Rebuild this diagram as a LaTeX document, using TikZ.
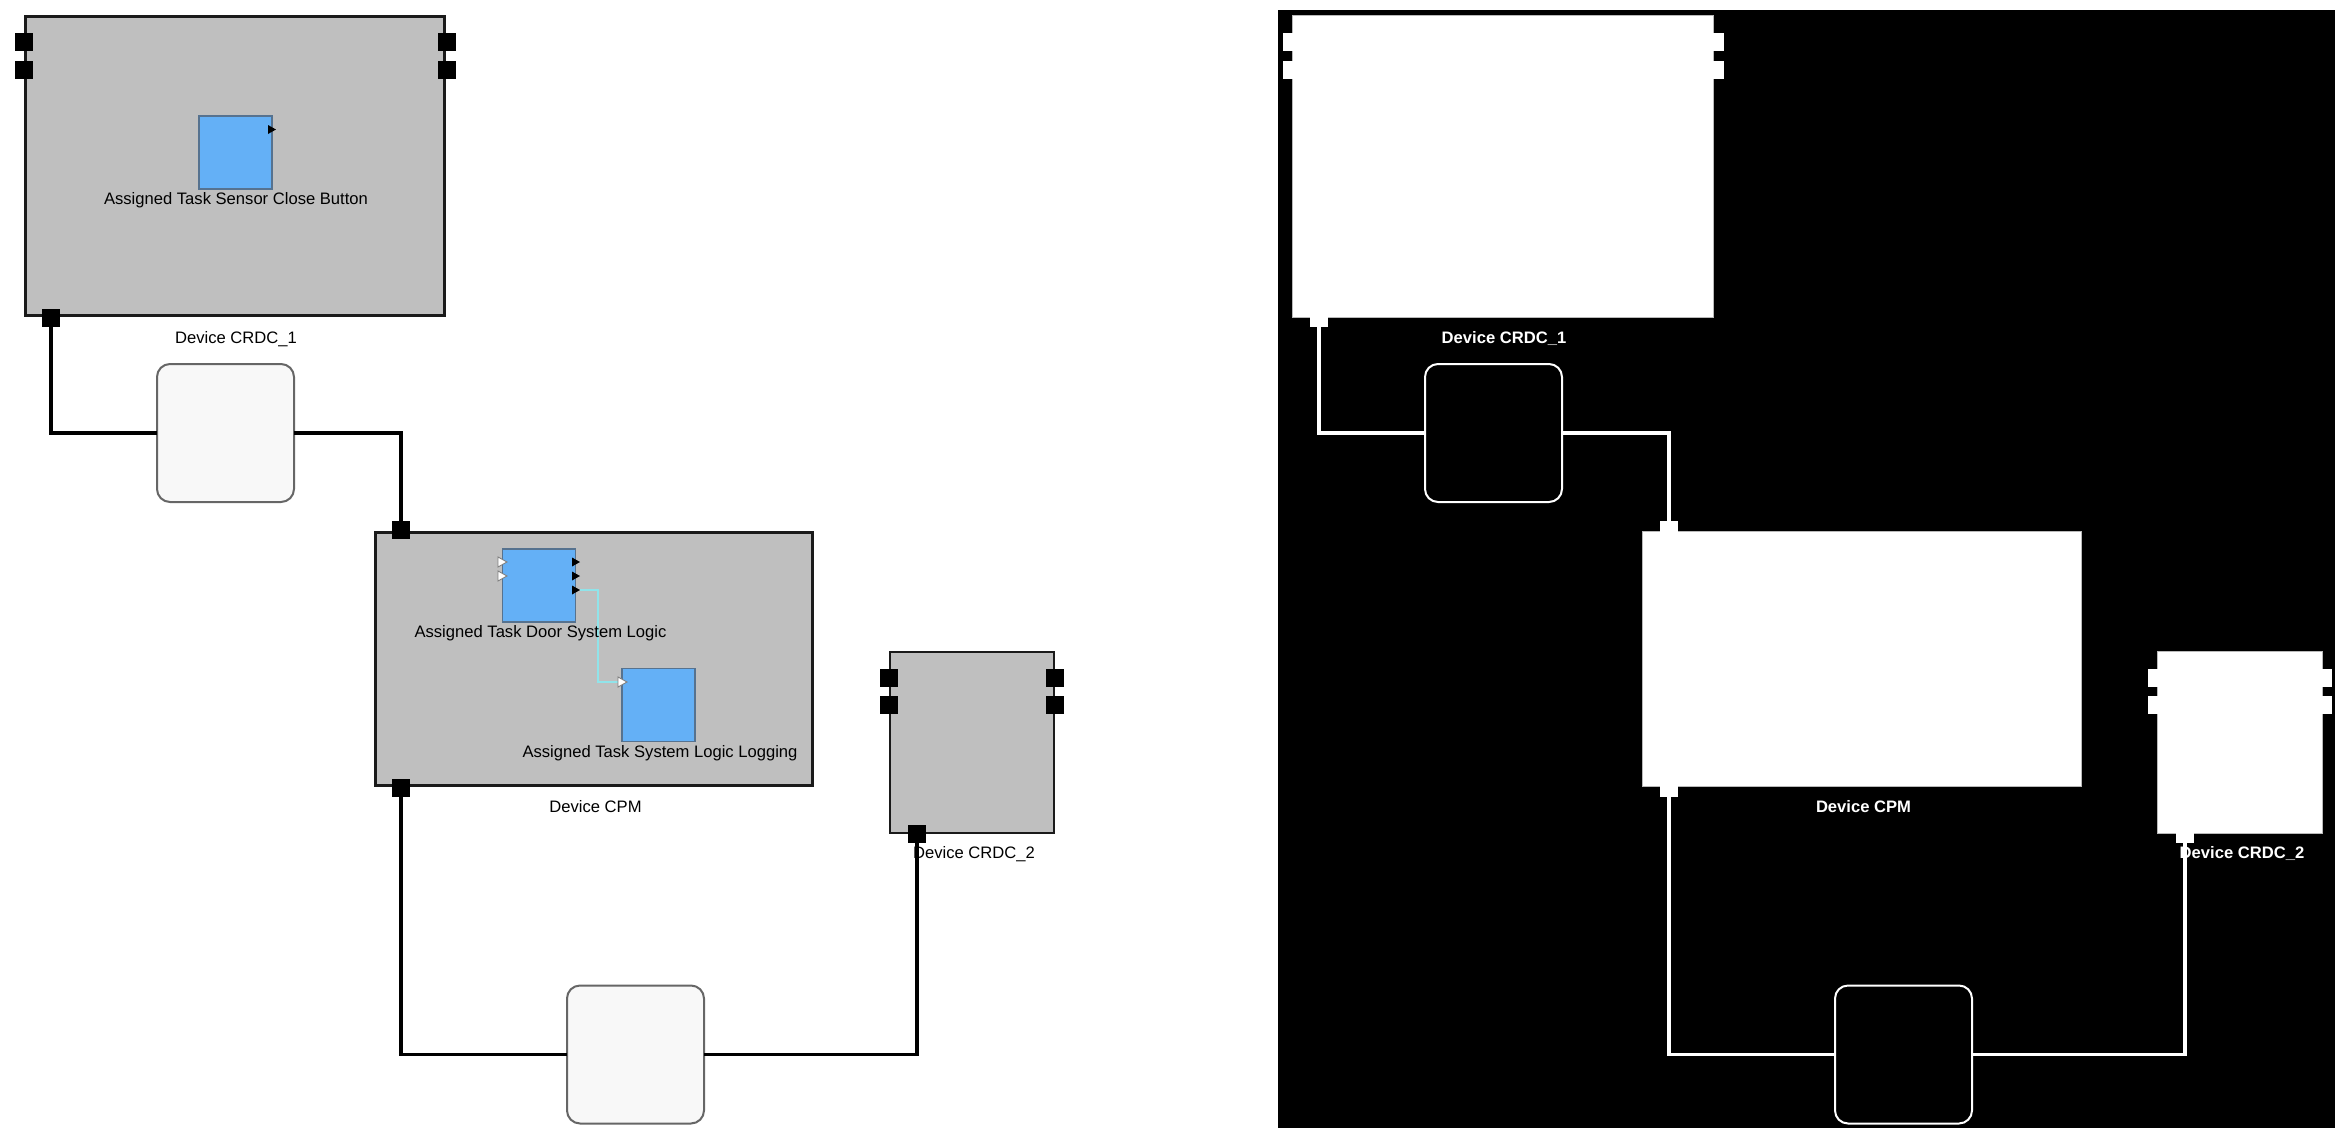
\documentclass[tikz,border=0pt]{standalone}
\usepackage{fontspec}
\setmainfont{Liberation Sans}
\definecolor{devgray}{HTML}{BFBFBF}
\definecolor{devborder}{HTML}{1A1A1A}
\definecolor{taskblue}{HTML}{64B0F6}
\definecolor{taskborder}{HTML}{56728F}
\definecolor{busfill}{HTML}{F8F8F8}
\definecolor{busborder}{HTML}{666666}
\definecolor{sigcyan}{HTML}{90E4EA}
\newcommand\outtri[2]{\fill[black] (#1,#2-4.5) -- (#1+8,#2) -- (#1,#2+4.5) -- cycle;}
\newcommand\intri[2]{\filldraw[fill=white,draw=gray,line width=0.9pt] (#1,#2-5) -- (#1+9,#2) -- (#1,#2+5) -- cycle;}
\begin{document}
\begin{tikzpicture}[x=1pt,y=-1pt,
  device/.style={rectangle,draw=devborder,line width=3pt,fill=devgray,inner sep=0pt,outer sep=0pt},
  port/.style={rectangle,fill=black,minimum size=18pt,inner sep=0pt,outer sep=0pt},
  task/.style={rectangle,fill=taskblue,draw=taskborder,line width=1.5pt,minimum size=73pt,inner sep=0pt,outer sep=0pt},
  bus/.style={rectangle,rounded corners=13pt,fill=busfill,draw=busborder,line width=2pt,minimum width=137pt,minimum height=138pt,inner sep=0pt,outer sep=0pt},
  wire/.style={line width=3.5pt,black},
  sig/.style={line width=1.5pt,sigcyan},
  lbl/.style={anchor=base,inner sep=0pt,font=\fontsize{16.6}{19}\selectfont,text=black},
  rdevice/.style={rectangle,draw=gray!55,line width=1pt,fill=white,inner sep=0pt,outer sep=0pt},
  rport/.style={rectangle,fill=white,minimum size=18pt,inner sep=0pt,outer sep=0pt},
  rbus/.style={rectangle,rounded corners=13pt,fill=black,draw=white,line width=2pt,minimum width=137pt,minimum height=138pt,inner sep=0pt,outer sep=0pt},
  rwire/.style={line width=3.5pt,white},
  rlbl/.style={anchor=base,inner sep=0pt,font=\fontsize{16.6}{19}\selectfont\bfseries,text=white}]
\useasboundingbox (0,0) rectangle (2345,1138);

% ---------------- left diagram ----------------
\node[device,minimum width=419pt,minimum height=299pt] (crdc1) at (235,166) {};
\node[device,minimum width=437pt,minimum height=253pt] (cpm) at (594,659) {};
\node[device,line width=2pt,minimum width=164pt,minimum height=181pt] (crdc2) at (971.5,742) {};

\node[port] (c1l1) at (23.5,42) {};
\node[port] (c1l2) at (23.5,70) {};
\node[port] (c1r1) at (447,42) {};
\node[port] (c1r2) at (447,70) {};
\node[port] (c1b) at (51,318) {};
\node[port] (cpmt) at (401,530) {};
\node[port] (cpmb) at (401,788) {};
\node[port] (c2l1) at (889,677.5) {};
\node[port] (c2l2) at (889,705) {};
\node[port] (c2r1) at (1055,677.5) {};
\node[port] (c2r2) at (1055,705) {};
\node[port] (c2b) at (917,834) {};

\node[task] (sensor) at (235.5,152.5) {};
\node[task] (door) at (539,585.5) {};
\node[task] (logging) at (658.5,705) {};

\outtri{268}{129.5}
\intri{498}{562}
\intri{498}{576}
\outtri{572}{562}
\outtri{572}{576}
\outtri{572}{590}
\coordinate (doorout) at (580,590);
\coordinate (login) at (618,682);
\draw[sig] (doorout) -- ++(18,0) |- (login);
\intri{618}{682}

\node[lbl] (sensorlbl) at (236,204) {Assigned Task Sensor Close Button};
\node[lbl] (doorlbl) at (540.5,637) {Assigned Task Door System Logic};
\node[lbl] (logginglbl) at (660,757) {Assigned Task System Logic Logging};
\node[lbl] (crdc1lbl) at (236,343) {Device CRDC\_1};
\node[lbl] (cpmlbl) at (595.5,812) {Device CPM};
\node[lbl] (crdc2lbl) at (974,858) {Device CRDC\_2};

\node[bus] (bus1) at (225.5,433) {};
\node[bus] (bus2) at (635.5,1054.5) {};

\draw[wire] (c1b.south) |- (bus1.west);
\draw[wire] (bus1.east) -| (cpmt.north);
\draw[wire] (cpmb.south) |- (bus2.west);
\draw[wire] (bus2.east) -| (c2b.south);

% ---------------- right diagram ----------------
\fill[black] (1278,10) rectangle (2335,1128);
\begin{scope}[xshift=1268pt,name prefix=R-]
\node[rdevice,minimum width=421pt,minimum height=302pt] (crdc1) at (235,166) {};
\node[rdevice,minimum width=439pt,minimum height=255pt] (cpm) at (594,659) {};
\node[rdevice,minimum width=165pt,minimum height=182pt] (crdc2) at (971.5,742) {};

\node[rport] (c1l1) at (23.5,42) {};
\node[rport] (c1l2) at (23.5,70) {};
\node[rport] (c1r1) at (447,42) {};
\node[rport] (c1r2) at (447,70) {};
\node[rport] (c1b) at (51,318) {};
\node[rport] (cpmt) at (401,530) {};
\node[rport] (cpmb) at (401,788) {};
\node[rport] (c2l1) at (889,677.5) {};
\node[rport] (c2l2) at (889,705) {};
\node[rport] (c2r1) at (1055,677.5) {};
\node[rport] (c2r2) at (1055,705) {};
\node[rport] (c2b) at (917,834) {};

\node[rlbl] (crdc1lbl) at (236,343) {Device CRDC\_1};
\node[rlbl] (cpmlbl) at (595.5,812) {Device CPM};
\node[rlbl] (crdc2lbl) at (974,858) {Device CRDC\_2};

\node[rbus] (bus1) at (225.5,433) {};
\node[rbus] (bus2) at (635.5,1054.5) {};

\draw[rwire] (c1b.south) |- (bus1.west);
\draw[rwire] (bus1.east) -| (cpmt.north);
\draw[rwire] (cpmb.south) |- (bus2.west);
\draw[rwire] (bus2.east) -| (c2b.south);
\end{scope}
\end{tikzpicture}
\end{document}
